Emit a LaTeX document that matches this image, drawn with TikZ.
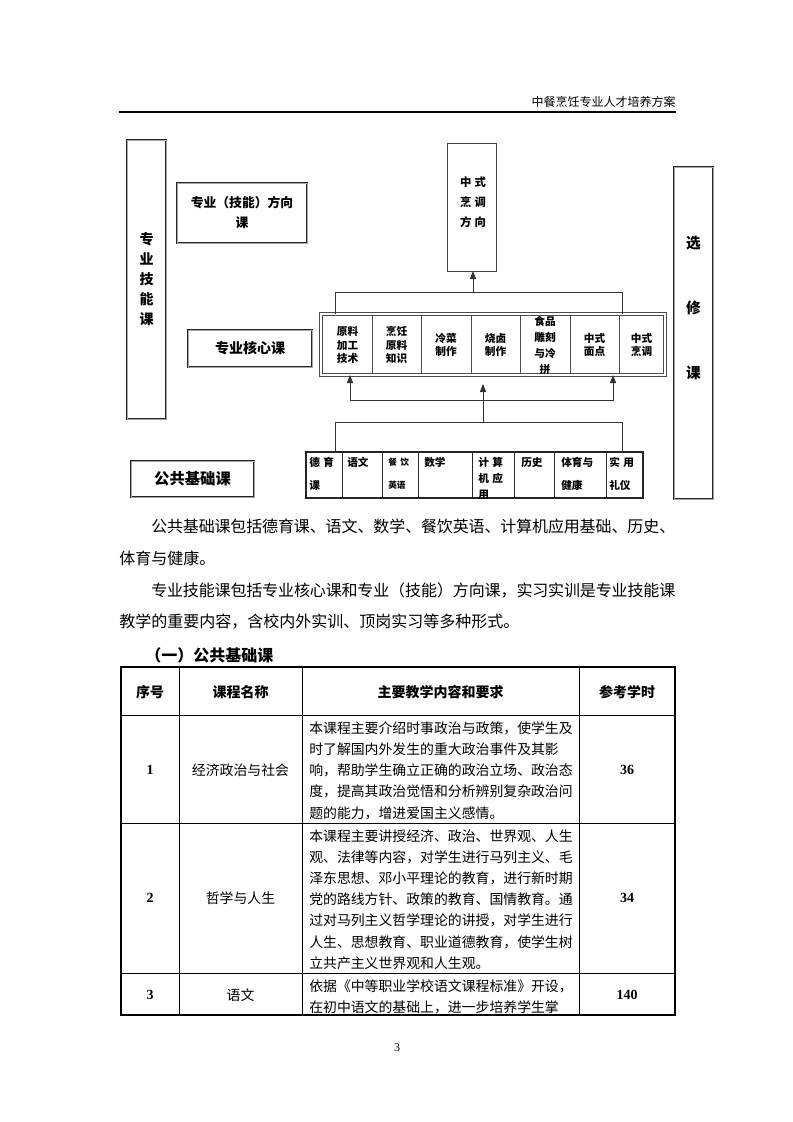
\documentclass[tikz,border=0pt]{standalone}
\usepackage{fontspec}
\setmainfont{Noto Sans CJK SC}
\newfontfamily\latin{Liberation Serif}
\XeTeXlinebreaklocale "zh"
\XeTeXlinebreakskip=0pt plus 1pt minus 0.5pt
\usetikzlibrary{positioning,arrows.meta}
\newcommand\gap{\hspace{2.5pt}}

\begin{document}
\begin{tikzpicture}[x=0.75pt,y=-0.75pt,
    heavybox/.style={draw=black!85, line width=0.45pt, double=black!35, double distance=0.6pt, inner sep=0pt, outer sep=0pt},
    thinbox/.style={draw=black!75, line width=0.6pt, inner sep=0pt, outer sep=0pt},
    link/.style={draw=black!80, line width=0.6pt},
    tip/.style={-{Triangle[length=6pt,width=4.6pt]}},
    cell/.style={font=\fontsize{8}{10}\selectfont\bfseries, align=center, inner sep=0pt},
    small/.style={font=\fontsize{8}{17.25}\selectfont\bfseries, align=left, inner sep=0pt, anchor=north west},
    body/.style={font=\fontsize{10.4}{15.9}\selectfont, align=left, inner sep=0pt},
    head/.style={font=\fontsize{10.5}{12}\selectfont\bfseries, inner sep=0pt},
    num/.style={font=\latin\bfseries\fontsize{10.5}{12}\selectfont, inner sep=0pt}]
\useasboundingbox (0,0) rectangle (793,1122);
\fill[white] (0,0) rectangle (793,1122);

% page header
\node[anchor=east, font=\fontsize{9}{11}\selectfont, inner sep=0pt] (title) at (676,102) {中餐烹饪专业人才培养方案};
\draw[line width=1.1pt] (119,112) -- (676,112);

% course structure
\node[heavybox, minimum width=39*0.75pt, minimum height=279*0.75pt, font=\fontsize{10.5}{15}\selectfont\bfseries, align=center] (jn) at (146.5,279.5) {专\\业\\技\\能\\课};
\node[heavybox, minimum width=130*0.75pt, minimum height=60*0.75pt, font=\fontsize{9.6}{15}\selectfont\bfseries, align=center] (fxk) at (242,213) {专业（技能）方向\\课};
\node[heavybox, minimum width=124*0.75pt, minimum height=37*0.75pt, font=\fontsize{10.5}{12}\selectfont\bfseries] (hxk) at (250,348.5) {专业核心课};
\node[heavybox, minimum width=123*0.75pt, minimum height=36*0.75pt, font=\fontsize{11.5}{13}\selectfont\bfseries] (ggk) at (192.5,479) {公共基础课};
\node[heavybox, minimum width=39*0.75pt, minimum height=332*0.75pt] (xxk) at (693.5,333) {};
\node[font=\fontsize{11}{48.75}\selectfont\bfseries, align=center, inner sep=0pt] (xxt) at (693.5,307.5) {选\\修\\课};

\node[thinbox, minimum width=49*0.75pt, minimum height=128*0.75pt] (fx) at (471.5,207) {};
\node[font=\fontsize{8.5}{15}\selectfont\bfseries, align=center, inner sep=0pt] (fxt) at (473,202) {中\gap 式\\烹\gap 调\\方\gap 向};

% core courses
\node[draw=black!70, line width=0.5pt, double=white, double distance=1.8pt, minimum width=344*0.75pt, minimum height=61*0.75pt, inner sep=0pt, outer sep=0pt] (hx) at (493,344.5) {};
\foreach \x in {372,421,471,520,570,619}
    \draw[black!70, line width=0.5pt] (\x,316) -- (\x,373);
\foreach \x/\t [count=\i] in {347.5/{原料\\加工\\技术}, 396.5/{烹饪\\原料\\知识}, 446/{冷菜\\制作}, 495.5/{烧卤\\制作}, 545/{食品\\[2pt]雕刻\\[2pt]与冷\\[2pt]拼}, 594.5/{中式\\面点}, 641.5/{中式\\烹调}}
    \node[cell] (k\i) at (\x,345) {\t};

% public basic courses
\node[draw=black!85, line width=0.8pt, minimum width=337*0.75pt, minimum height=46*0.75pt, inner sep=0pt, outer sep=0pt] (gj) at (474.5,475) {};
\foreach \x in {342,382,418,472,514,554,606}
    \draw[black!85, line width=0.6pt] (\x,452) -- (\x,498);
\node[small] (d1) at (309,457) {德\gap 育\\课};
\node[small] (d2) at (347,457) {语文};
\node[small, font=\fontsize{6.5}{17.25}\selectfont\bfseries] (d3) at (388,458) {餐\gap 饮\\英语};
\node[small] (d4) at (424,457) {数学};
\node[small, font=\fontsize{8}{12}\selectfont\bfseries] (d5) at (478,457) {计\gap 算\\机\gap 应\\用};
\node[small] (d6) at (521,457) {历史};
\node[small] (d7) at (561,457) {体育与\\健康};
\node[small] (d8) at (609,457) {实\gap 用\\礼仪};

% connectors
\coordinate (t1) at (335,292);
\coordinate (t2) at (622,292);
\coordinate (t0) at (473,292);
\draw[link] (t1 |- hx.north) -- (t1) -- (t2) -- (t2 |- hx.north);
\draw[link, tip] (t0) -- (t0 |- fx.south);
\coordinate (b1) at (350,400);
\coordinate (b2) at (613,400);
\draw[link, {Triangle[length=6pt,width=4.6pt]}-{Triangle[length=6pt,width=4.6pt]}] (b1 |- hx.south) -- (b1) -- (b2) -- (b2 |- hx.south);
\coordinate (g1) at (335,422);
\coordinate (g2) at (622,422);
\coordinate (g0) at (483,422);
\coordinate (m1) at (483,384);
\draw[link] (g1 |- gj.north) -- (g1) -- (g2) -- (g2 |- gj.north);
\draw[link, tip] (g0) -- (m1);

% text
\node[anchor=north west, inner sep=0pt, text width=417pt, font=\fontsize{12}{23.75}\selectfont, align=justify] (para) at (119,519) {\hspace*{24pt}公共基础课包括德育课、语文、数学、餐饮英语、计算机应用基础、历史、\linebreak 体育与健康。\par
\hspace*{24pt}专业技能课包括专业核心课和专业（技能）方向课，实习实训是专业技能课\linebreak 教学的重要内容，含校内外实训、顶岗实习等多种形式。};
\node[anchor=west, font=\fontsize{12}{14}\selectfont\bfseries, inner sep=0pt] (h1) at (145,655) {（一）公共基础课};

% table
\draw[line width=0.9pt] (121,667) rectangle (675,1015);
\foreach \y in {715,823,973}
    \draw[line width=0.7pt] (121,\y) -- (675,\y);
\foreach \x in {179,302,579}
    \draw[line width=0.7pt] (\x,667) -- (\x,1015);
\node[head] (th1) at (150,692) {序号};
\node[head] (th2) at (240.5,692) {课程名称};
\node[head] (th3) at (440.5,692) {主要教学内容和要求};
\node[head] (th4) at (627,692) {参考学时};

\node[num] (n1) at (150,770) {1};
\node[body] (c1) at (240.5,770) {经济政治与社会};
\node[body, anchor=west] (r1) at (309,770.5) {本课程主要介绍时事政治与政策，使学生及\\时了解国内外发生的重大政治事件及其影\\响，帮助学生确立正确的政治立场、政治态\\度，提高其政治觉悟和分析辨别复杂政治问\\题的能力，增进爱国主义感情。};
\node[num] (h1n) at (627,770) {36};

\node[num] (n2) at (150,898) {2};
\node[body] (c2) at (240.5,898) {哲学与人生};
\node[body, anchor=west] (r2) at (309,899.5) {本课程主要讲授经济、政治、世界观、人生\\观、法律等内容，对学生进行马列主义、毛\\泽东思想、邓小平理论的教育，进行新时期\\党的路线方针、政策的教育、国情教育。通\\过对马列主义哲学理论的讲授，对学生进行\\人生、思想教育、职业道德教育，使学生树\\立共产主义世界观和人生观。};
\node[num] (h2n) at (627,898) {34};

\node[num] (n3) at (150,995) {3};
\node[body] (c3) at (240.5,995) {语文};
\node[body, anchor=west] (r3) at (309,996.5) {依据《中等职业学校语文课程标准》开设，\\在初中语文的基础上，进一步培养学生掌};
\node[num] (h3n) at (627,995) {140};

\node[font=\latin\fontsize{9}{11}\selectfont, inner sep=0pt] (pg) at (397,1048) {3};
\end{tikzpicture}
\end{document}
